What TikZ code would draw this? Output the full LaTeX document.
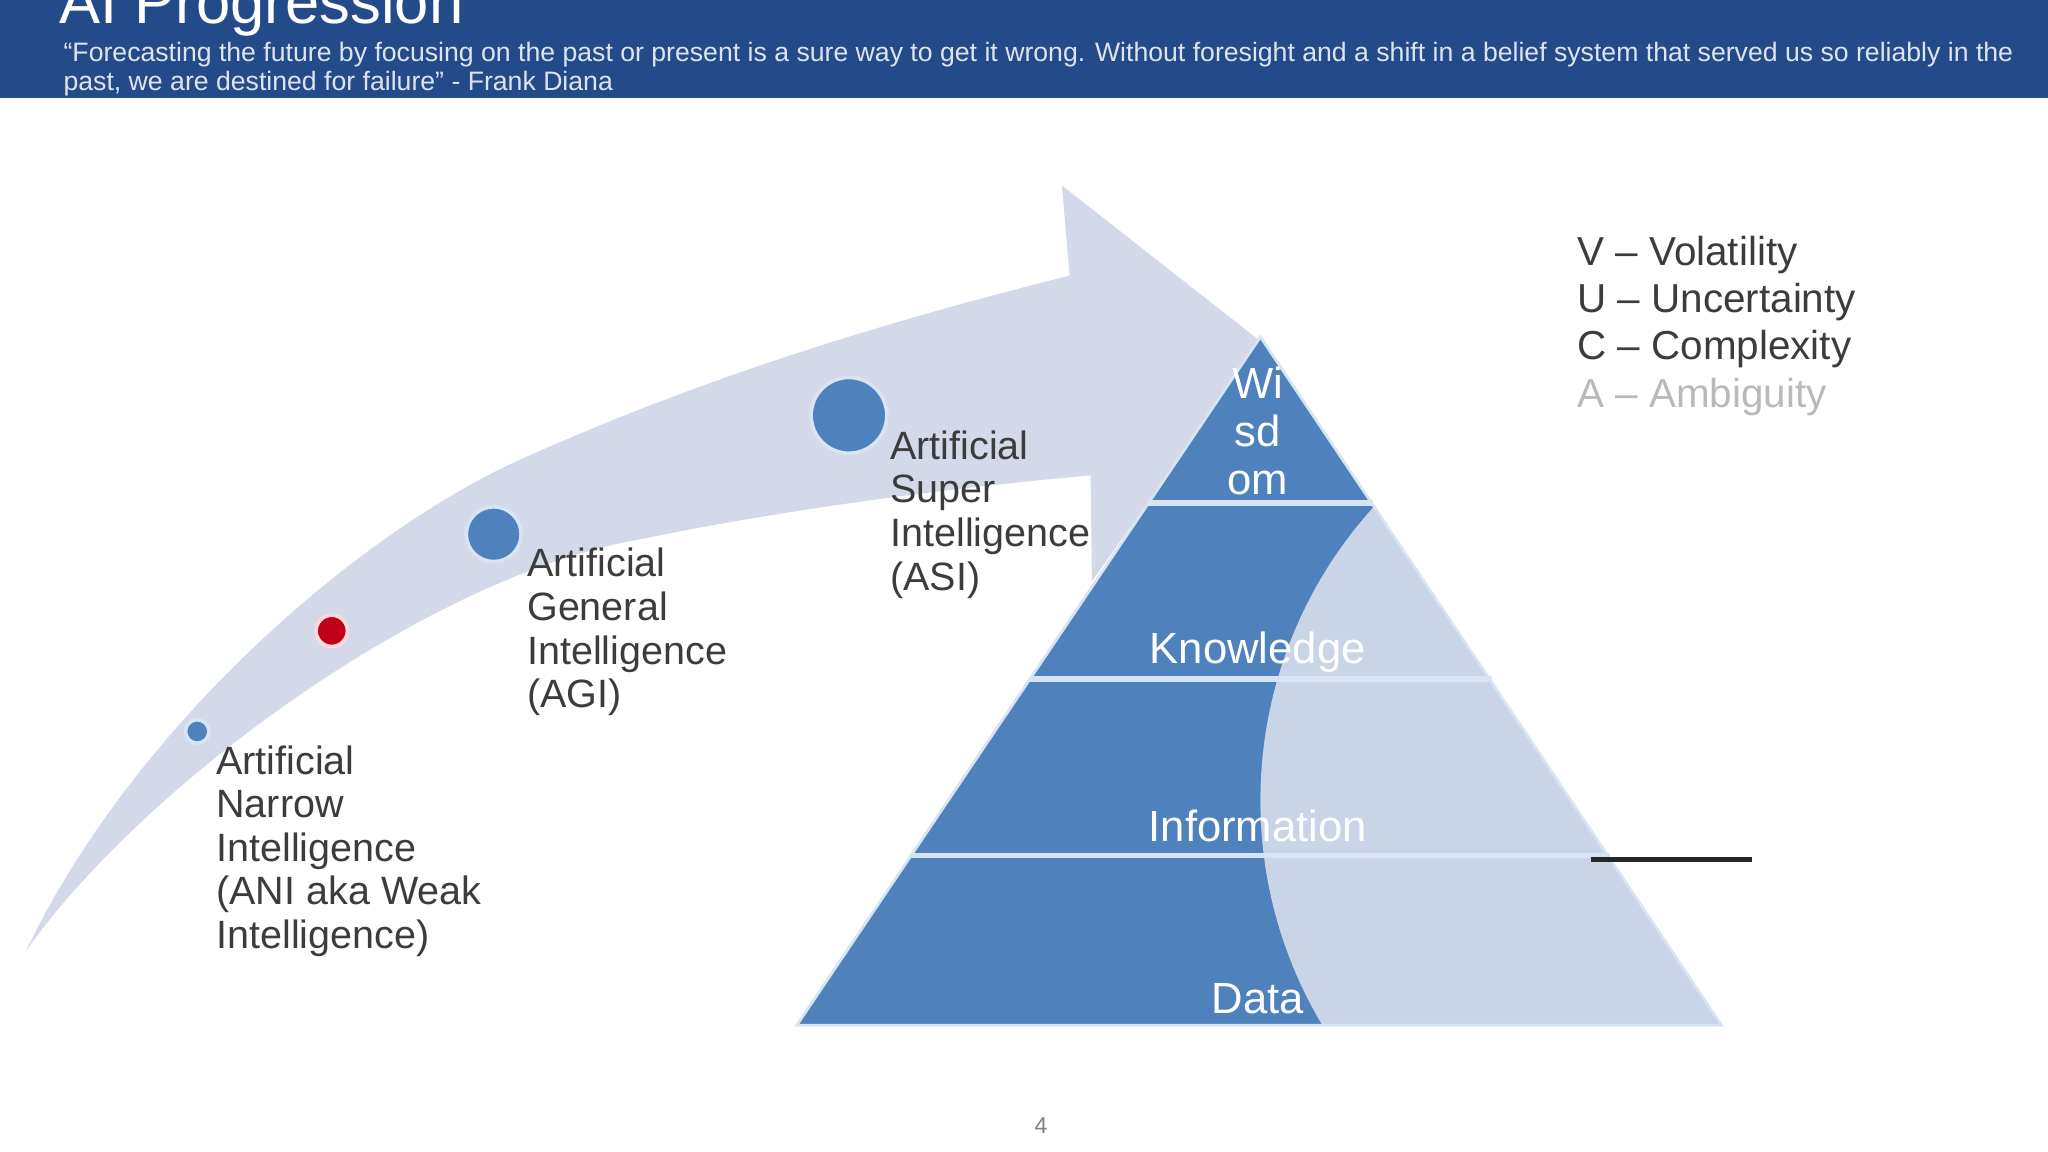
\documentclass[tikz,border=0pt]{standalone}
\usepackage{fontspec}
\setmainfont{Liberation Sans}
\definecolor{hdrblue}{RGB}{36,75,137}
\definecolor{tierblue}{RGB}{79,129,189}
\definecolor{sepblue}{RGB}{214,228,244}
\definecolor{arrowgray}{RGB}{211,217,232}
\definecolor{veilgray}{RGB}{201,212,230}
\definecolor{labelgray}{RGB}{60,60,60}
\definecolor{fadegray}{RGB}{185,185,185}
\definecolor{dotred}{RGB}{192,0,26}

\begin{document}
\begin{tikzpicture}[x=0.01cm, y=-0.01cm,
  dot/.style={circle, fill=tierblue, draw=sepblue, line width=0.8pt, inner sep=0pt},
  stage/.style={anchor=north west, inner sep=0pt, align=left, text=labelgray,
    font=\fontsize{8.6}{9.5}\selectfont},
  tier/.style={inner sep=0pt, align=center, text=white,
    font=\fontsize{9.5}{10.5}\selectfont},
  quote/.style={anchor=base west, inner sep=0pt, text=white!85!hdrblue,
    font=\fontsize{5.8}{6}\selectfont}]
  \useasboundingbox (0,0) rectangle (1568,882);

  % ---- Kopfzeile ----
  \fill[hdrblue] (0,0) rectangle (1568,75);
  \node[anchor=base west, inner sep=0pt, text=white, font=\fontsize{13.4}{14}\selectfont]
    (title) at (45,18) {AI Progression};
  \node[quote] (quote1) at (48,47) {“Forecasting the future by focusing on the past or present is a sure way to get it wrong. Without foresight and a shift in a belief system that served us so reliably in the};
  \node[quote] (quote2) at (48,69) {past, we are destined for failure” - Frank Diana};

  % ---- Pfeil ----
  \fill[arrowgray] (20,728) .. controls (100,560) and (270,410) .. (398,352)
    .. controls (538,289) and (679,246) .. (819,211)
    -- (813,142) -- (966,262) -- (836,445) -- (835,364)
    .. controls (720,374) and (590,392) .. (490,413)
    .. controls (330,440) and (110,600) .. (20,728) -- cycle;

  % ---- Stufen auf dem Pfeil ----
  \node[dot, minimum size=0.18cm] (ani) at (151,560) {};
  \node[dot, fill=dotred, draw=red!15, minimum size=0.24cm] (now) at (254,483) {};
  \node[dot, minimum size=0.42cm] (agi) at (378,409) {};
  \node[dot, minimum size=0.58cm] (asi) at (650,318) {};

  \node[stage] (anitext) at (165,570) {Artificial\\Narrow\\Intelligence\\(ANI aka Weak\\Intelligence)};
  \node[stage] (agitext) at (403,419) {Artificial\\General\\Intelligence\\(AGI)};
  \node[stage] (asitext) at (681,329) {Artificial\\Super\\Intelligence\\(ASI)};

  % ---- Pyramide ----
  \fill[tierblue] (965,258) -- (1318,785) -- (610,785) -- cycle;
  \begin{scope}
    \clip (965,258) -- (1318,785) -- (610,785) -- cycle;
    \fill[veilgray] (1300,613) circle[radius=335];
  \end{scope}
  \draw[sepblue, line width=0.6pt] (965,258) -- (1318,785) -- (610,785) -- cycle;
  \draw[sepblue, line width=1.2pt] (879,385) -- (1051,385);
  \draw[sepblue, line width=1.2pt] (788,520) -- (1142,520);
  \draw[sepblue, line width=1.2pt] (697,655) -- (1233,655);

  \node[tier] (wisdom) at (963,330) {Wi\\sd\\om};
  \node[tier] (knowledge) at (963,499) {Knowledge};
  \node[tier] (information) at (963,632) {Information};
  \node[tier] (data) at (963,765) {Data};

  % ---- VUCA ----
  \node[stage, font=\fontsize{8.8}{10.3}\selectfont] (vuca) at (1207,180)
    {V – Volatility\\U – Uncertainty\\C – Complexity\\{\color{fadegray}A – Ambiguity}};
  \draw[black!85, line width=1pt] (1218,658) -- (1341,658);

  % ---- Seitenzahl ----
  \node[inner sep=0pt, text=gray, font=\fontsize{5}{6}\selectfont] (page) at (797,862) {4};
\end{tikzpicture}
\end{document}
